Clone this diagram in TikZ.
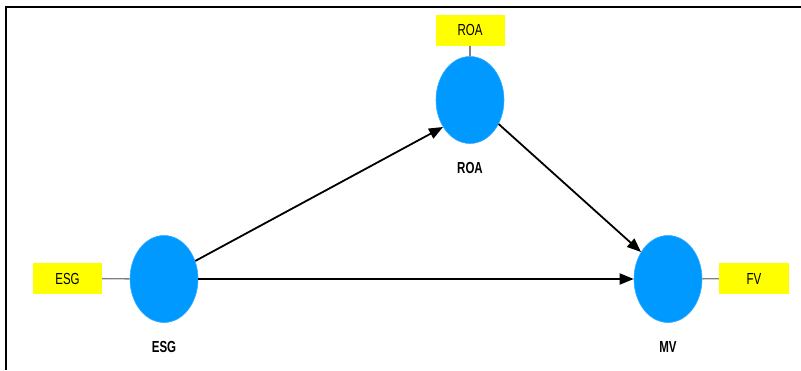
\documentclass[tikz,border=0pt]{standalone}
\usepackage{fontspec}
\setmainfont{Liberation Sans}
\usetikzlibrary{arrows.meta,shapes.geometric}
\definecolor{latblue}{RGB}{0,153,255}
\definecolor{indyellow}{RGB}{255,255,0}
\begin{document}
\begin{tikzpicture}[x=1pt,y=-1pt,
  latent/.style={ellipse,fill=latblue,draw=latblue!80!white,line width=0.6pt,minimum width=68pt,minimum height=87pt,inner sep=0pt},
  indic/.style={rectangle,fill=indyellow,minimum width=69pt,minimum height=31pt,inner sep=0pt,
    font=\fontsize{16}{16}\selectfont},
  lvlabel/.style={font=\fontsize{16}{16}\selectfont\bfseries},
  path/.style={line width=1.8pt,-{Triangle[length=14pt,width=11pt]}},
  link/.style={line width=1.4pt,draw=gray}
]
\useasboundingbox (0,0) rectangle (801,370);
\draw[line width=2.5pt] (6,370) -- (6,7) -- (801,7);

\node[latent] (esg) at (164,279) {};
\node[latent] (roa) at (470,100) {};
\node[latent] (mv) at (668,279) {};

\node[indic] (esgi) at (67.5,278.5) {\scalebox{0.72}[1]{ESG}};
\node[indic] (roai) at (470,30) {\scalebox{0.72}[1]{ROA}};
\node[indic,minimum width=70pt] (fvi) at (754,278.5) {\scalebox{0.72}[1]{FV}};

\node[lvlabel] (esgl) at (164,347) {\scalebox{0.72}[1]{ESG}};
\node[lvlabel] (roal) at (470,168) {\scalebox{0.72}[1]{ROA}};
\node[lvlabel] (mvl) at (668,347) {\scalebox{0.72}[1]{MV}};

\draw[link] (esgi) -- (esg);
\draw[link] (roai) -- (roa);
\draw[link] (fvi) -- (mv);

\draw[path] (esg.30) -- (roa.225);
\draw[path] (roa.-40) -- (mv.135);
\draw[path] (esg) -- (mv);
\end{tikzpicture}
\end{document}
